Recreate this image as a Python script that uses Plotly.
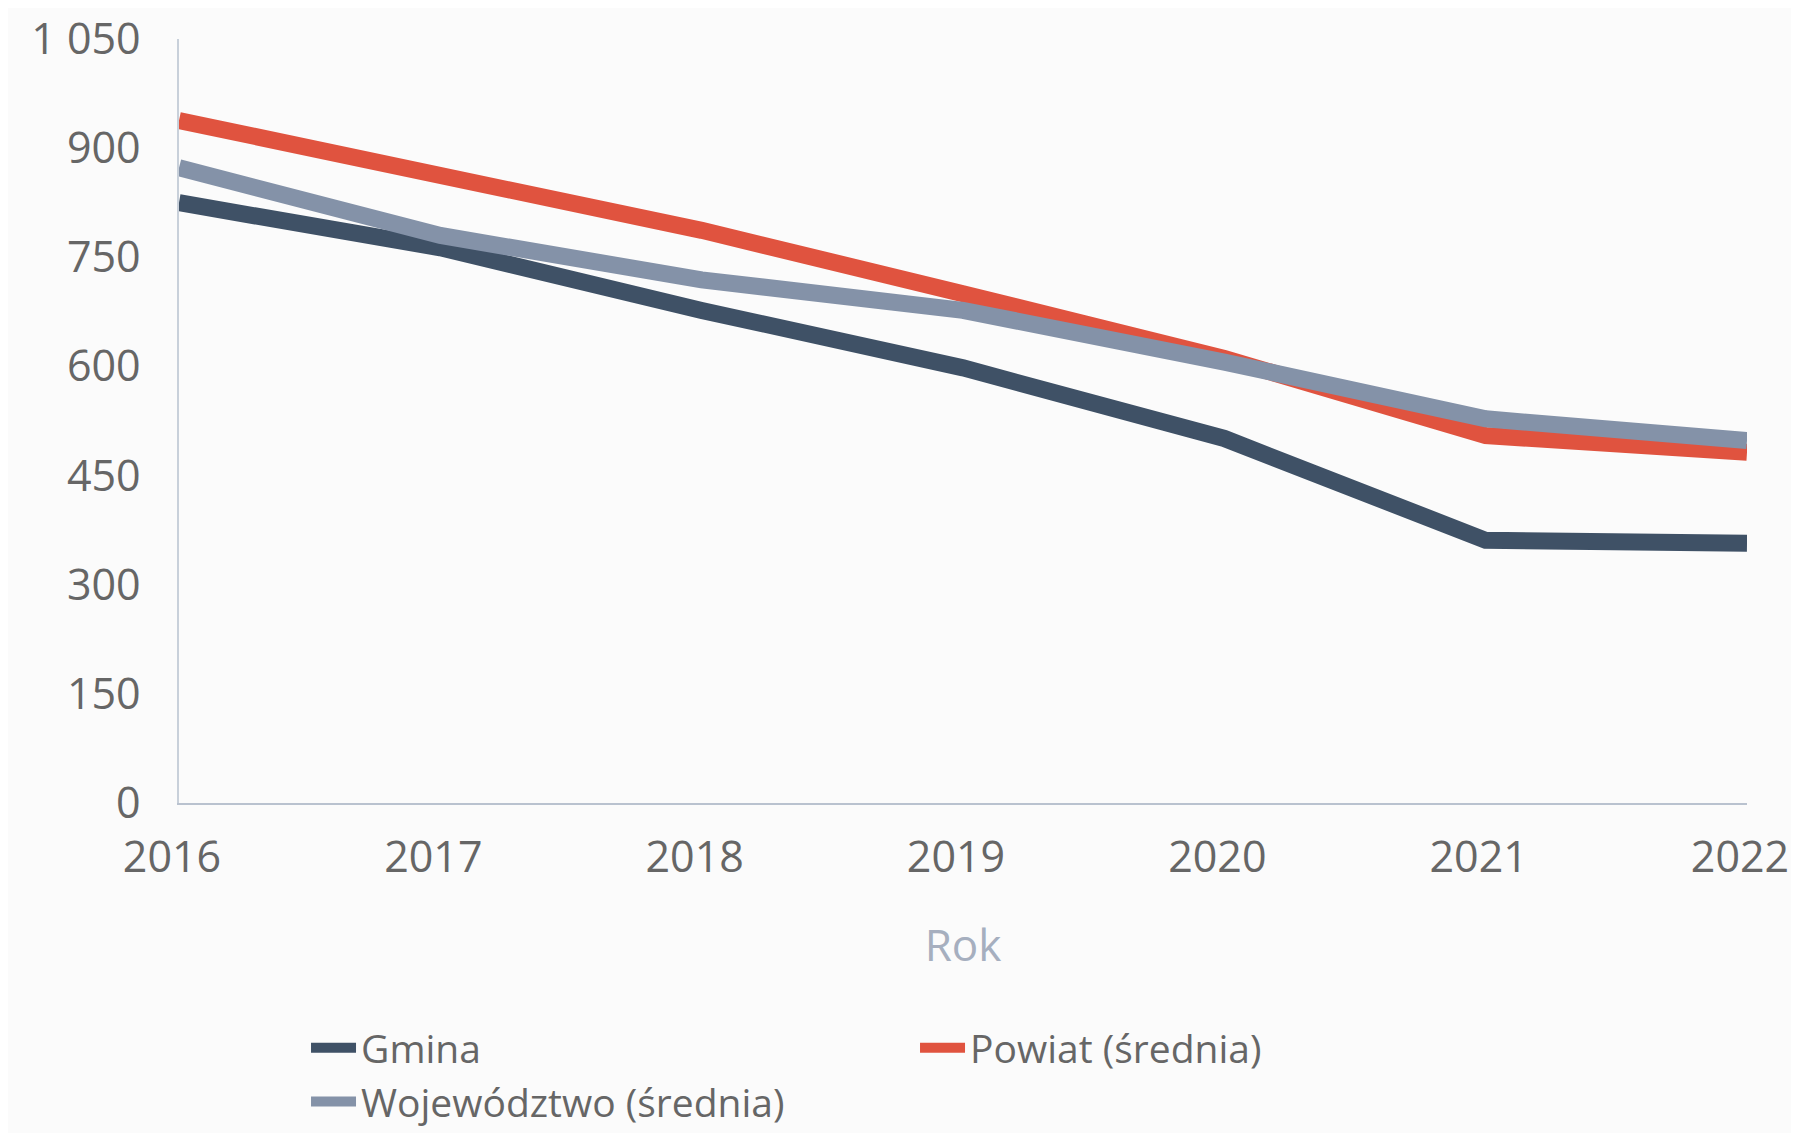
import plotly.graph_objects as go

years = [2016, 2017, 2018, 2019, 2020, 2021, 2022]
gmina = [825, 763, 677, 598, 501, 361, 357]
powiat = [938, 860, 787, 700, 611, 505, 482]
wojewodztwo = [873, 780, 719, 677, 606, 528, 498]

series_names = ["Gmina", "Powiat (średnia)", "Województwo (średnia)"]
series_colors = ["#3f5166", "#e0533f", "#8492a8"]

y_tickvals = [0, 150, 300, 450, 600, 750, 900, 1050]
y_ticktext = ["0", "150", "300", "450", "600", "750", "900", "1 050"]
x_title = "Rok"

fig = go.Figure()
for name, vals, col in zip(series_names, [gmina, powiat, wojewodztwo], series_colors):
    fig.add_trace(go.Scatter(
        x=years, y=vals, name=name, mode="lines",
        line=dict(color=col, width=17),
    ))

FONT = "Open Sans"
fig.update_layout(
    width=1791, height=1125,
    margin=dict(l=171, r=52, t=31, b=330, autoexpand=False),
    paper_bgcolor="#fbfbfb",
    plot_bgcolor="#fbfbfb",
    font=dict(family=FONT, color="#666666"),
    showlegend=True,
    legend=dict(
        orientation="h",
        xref="container", yref="container",
        x=0.1664, xanchor="left",
        y=0.104, yanchor="top",
        font=dict(family=FONT, size=39, color="#666666"),
        entrywidth=549, entrywidthmode="pixels",
        itemwidth=45,
        traceorder="normal",
        bgcolor="rgba(0,0,0,0)",
        tracegroupgap=0,
    ),
    xaxis=dict(
        range=[2016, 2022],
        tickvals=years,
        ticktext=[str(y) for y in years],
        tickfont=dict(family=FONT, size=43, color="#666666"),
        showgrid=False, zeroline=False,
        showline=True, linecolor="#b9c2cf", linewidth=1.5,
        ticks="", ticklabelstandoff=16, ticklabelshift=-7,
        ticklabeloverflow="allow",
        title=dict(text=x_title, font=dict(family=FONT, size=44, color="#a6afbf"), standoff=46),
    ),
    yaxis=dict(
        range=[0, 1050],
        tickvals=y_tickvals,
        ticktext=y_ticktext,
        tickfont=dict(family=FONT, size=43, color="#666666"),
        showgrid=False, zeroline=False,
        showline=True, linecolor="#c8d0da", linewidth=1.5,
        ticks="", ticklabelstandoff=28,
    ),
)

fig.write_html("out.html")
